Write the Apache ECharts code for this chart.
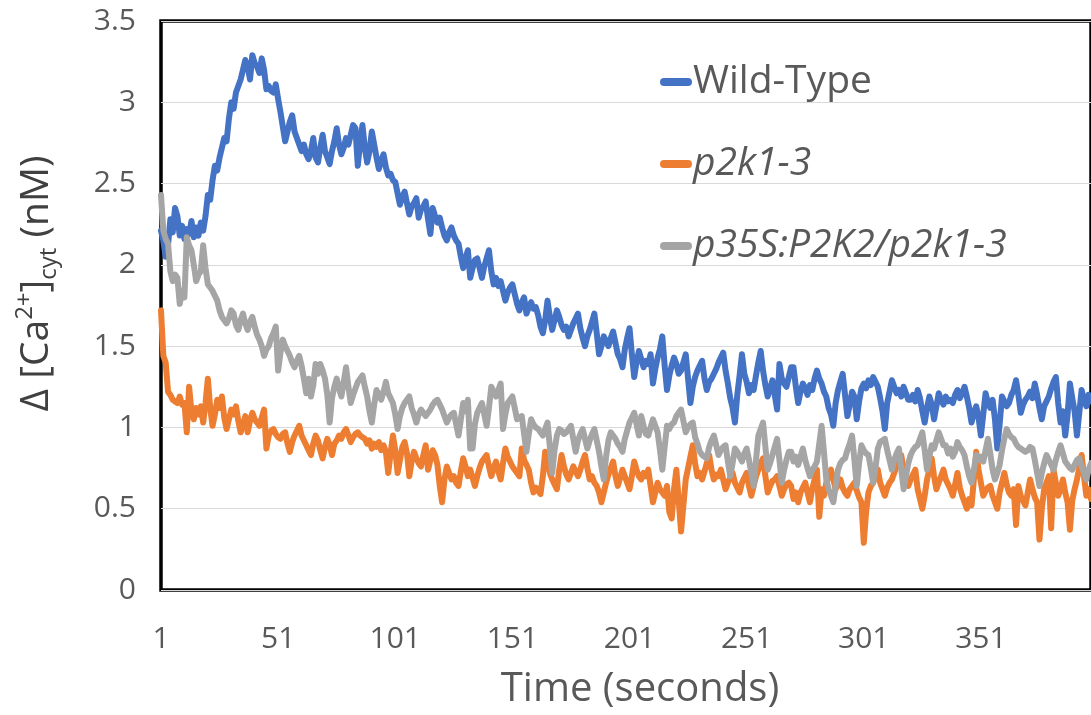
<!DOCTYPE html>
<html>
<head>
<meta charset="utf-8">
<script src="https://cdn.jsdelivr.net/npm/echarts@6/dist/echarts.min.js"></script>
<style>
html,body{margin:0;padding:0;background:#fff;}
#chart{width:1091px;height:715px;}
</style>
</head>
<body>
<div id="chart"></div>
<script>
// Categories: time in seconds
var categories = [];
for (var t = 1; t <= 398; t++) categories.push(String(t));

var seriesNames = ['Wild-Type', 'p2k1-3', 'p35S:P2K2/p2k1-3'];

var wildType = [
2.21,2.15,2.05,2.12,2.28,2.20,2.35,2.30,2.18,2.24,
2.16,2.22,2.19,2.27,2.17,2.23,2.18,2.26,2.21,2.30,
2.43,2.40,2.52,2.61,2.58,2.66,2.72,2.78,2.76,2.90,
3.00,2.96,3.06,3.10,3.14,3.20,3.26,3.22,3.14,3.29,
3.24,3.22,3.18,3.27,3.20,3.08,3.10,3.07,3.06,3.11,
3.02,2.94,2.85,2.76,2.82,2.88,2.92,2.82,2.78,2.74,
2.70,2.74,2.68,2.65,2.70,2.78,2.66,2.63,2.72,2.80,
2.70,2.66,2.62,2.70,2.76,2.84,2.74,2.68,2.72,2.78,
2.74,2.80,2.86,2.84,2.61,2.75,2.86,2.72,2.63,2.70,
2.82,2.74,2.66,2.59,2.64,2.68,2.60,2.55,2.56,2.52,
2.51,2.44,2.37,2.42,2.45,2.38,2.31,2.36,2.38,2.41,
2.29,2.34,2.36,2.39,2.28,2.19,2.35,2.30,2.26,2.29,
2.23,2.18,2.15,2.20,2.23,2.18,2.15,2.13,2.05,1.98,
2.04,2.09,1.92,1.98,2.03,2.04,1.98,1.92,1.99,2.04,
2.09,1.96,1.88,1.92,1.87,1.90,1.84,1.78,1.83,1.86,
1.88,1.82,1.76,1.72,1.77,1.80,1.70,1.74,1.77,1.73,
1.74,1.69,1.62,1.58,1.66,1.78,1.68,1.60,1.66,1.72,
1.68,1.63,1.60,1.62,1.56,1.60,1.64,1.67,1.70,1.61,
1.55,1.50,1.56,1.60,1.65,1.70,1.58,1.45,1.50,1.56,
1.53,1.50,1.55,1.59,1.52,1.45,1.42,1.37,1.48,1.55,
1.61,1.45,1.31,1.40,1.47,1.42,1.37,1.41,1.39,1.45,
1.27,1.36,1.43,1.48,1.56,1.38,1.23,1.32,1.38,1.43,
1.39,1.33,1.35,1.40,1.45,1.30,1.15,1.25,1.31,1.35,
1.38,1.41,1.30,1.23,1.28,1.30,1.33,1.36,1.40,1.43,
1.46,1.35,1.27,1.18,1.12,1.03,1.20,1.32,1.45,1.33,
1.28,1.21,1.26,1.23,1.32,1.40,1.47,1.35,1.26,1.19,
1.24,1.29,1.20,1.11,1.39,1.30,1.27,1.25,1.31,1.37,
1.37,1.25,1.15,1.22,1.27,1.24,1.20,1.26,1.23,1.30,
1.35,1.30,1.27,1.22,1.19,1.12,1.08,1.01,1.15,1.23,
1.28,1.33,1.20,1.07,1.14,1.22,1.19,1.05,1.16,1.24,
1.27,1.24,1.29,1.26,1.31,1.28,1.25,1.18,1.10,0.99,
1.15,1.22,1.29,1.25,1.21,1.23,1.19,1.25,1.21,1.17,
1.17,1.20,1.16,1.23,1.18,1.10,1.03,1.12,1.19,1.14,
1.05,1.13,1.21,1.17,1.14,1.19,1.16,1.17,1.15,1.20,
1.23,1.18,1.21,1.25,1.19,1.12,1.03,1.09,1.13,1.06,
0.95,1.08,1.21,1.15,1.12,1.17,1.05,0.87,1.02,1.19,
1.16,1.13,1.15,1.20,1.23,1.29,1.20,1.09,1.14,1.17,
1.19,1.22,1.18,1.27,1.20,1.12,1.05,1.13,1.16,1.19,
1.24,1.28,1.31,1.15,1.03,1.10,0.95,1.08,1.27,1.18,
1.10,0.95,1.09,1.23,1.17,1.13,1.20,1.16
];

var p2k13 = [
1.72,1.44,1.40,1.22,1.20,1.17,1.16,1.15,1.19,1.14,
1.15,0.97,1.25,1.10,1.05,1.12,1.08,1.13,1.03,1.15,
1.30,1.12,1.01,1.08,1.17,1.12,1.19,1.06,0.99,1.05,
1.11,1.08,1.13,1.04,0.97,1.02,1.07,0.97,1.04,1.09,
1.05,1.03,1.01,1.06,1.11,0.87,0.95,0.98,0.99,0.96,
0.94,0.93,0.96,0.97,0.90,0.85,0.91,0.95,0.98,1.01,
0.95,0.92,0.89,0.86,0.83,0.90,0.95,0.92,0.86,0.81,
0.88,0.93,0.89,0.83,0.90,0.92,0.95,0.93,0.97,0.99,
0.95,0.91,0.94,0.96,0.97,0.95,0.94,0.93,0.90,0.92,
0.87,0.90,0.88,0.91,0.86,0.89,0.85,0.72,0.84,0.95,
0.86,0.72,0.80,0.88,0.91,0.84,0.70,0.79,0.85,0.81,
0.78,0.76,0.83,0.89,0.74,0.80,0.86,0.83,0.77,0.64,
0.54,0.68,0.76,0.72,0.68,0.70,0.66,0.64,0.73,0.81,
0.76,0.70,0.74,0.69,0.64,0.70,0.75,0.79,0.81,0.83,
0.76,0.70,0.75,0.79,0.73,0.68,0.78,0.87,0.82,0.79,
0.76,0.74,0.72,0.70,0.87,0.80,0.77,0.74,0.66,0.60,
0.63,0.61,0.59,0.70,0.85,0.79,0.72,0.68,0.65,0.62,
0.74,0.83,0.76,0.71,0.68,0.72,0.76,0.73,0.70,0.74,
0.79,0.83,0.75,0.68,0.70,0.66,0.64,0.60,0.54,0.60,
0.66,0.71,0.75,0.79,0.70,0.64,0.69,0.74,0.70,0.66,
0.62,0.70,0.79,0.74,0.70,0.68,0.72,0.70,0.74,0.64,
0.54,0.60,0.66,0.62,0.60,0.58,0.64,0.48,0.44,0.62,
0.74,0.55,0.36,0.52,0.68,0.75,0.82,0.89,0.78,0.70,
0.72,0.68,0.73,0.78,0.83,0.74,0.68,0.71,0.70,0.74,
0.68,0.62,0.66,0.69,0.72,0.66,0.63,0.60,0.66,0.69,
0.72,0.64,0.58,0.64,0.70,0.74,0.78,0.81,0.70,0.60,
0.64,0.67,0.68,0.70,0.64,0.58,0.62,0.65,0.66,0.64,
0.56,0.60,0.54,0.60,0.63,0.66,0.60,0.54,0.62,0.68,
0.74,0.45,0.62,0.58,0.66,0.70,0.74,0.68,0.62,0.65,
0.68,0.63,0.60,0.58,0.62,0.64,0.66,0.61,0.57,0.54,
0.29,0.48,0.60,0.64,0.66,0.70,0.74,0.66,0.62,0.58,
0.63,0.66,0.68,0.72,0.76,0.79,0.83,0.74,0.68,0.64,
0.68,0.71,0.74,0.62,0.56,0.50,0.58,0.68,0.74,0.81,
0.70,0.62,0.66,0.70,0.74,0.68,0.65,0.62,0.58,0.65,
0.72,0.63,0.58,0.54,0.50,0.56,0.52,0.68,0.85,0.74,
0.66,0.58,0.61,0.63,0.64,0.58,0.54,0.50,0.60,0.66,
0.72,0.65,0.60,0.58,0.62,0.40,0.64,0.58,0.55,0.52,
0.60,0.68,0.62,0.57,0.54,0.31,0.50,0.62,0.66,0.70,
0.38,0.74,0.66,0.58,0.62,0.68,0.60,0.54,0.37,0.55,
0.62,0.68,0.75,0.83,0.70,0.58,0.62,0.56
];

var p35S = [
2.43,2.21,2.16,2.13,1.96,1.90,1.94,1.92,1.76,1.84,
1.80,2.17,2.12,2.09,2.00,1.90,1.94,1.96,2.12,1.98,
1.88,1.86,1.84,1.81,1.78,1.72,1.68,1.66,1.64,1.67,
1.72,1.70,1.63,1.60,1.66,1.70,1.64,1.60,1.65,1.68,
1.62,1.57,1.54,1.50,1.44,1.48,1.50,1.55,1.58,1.62,
1.35,1.46,1.54,1.50,1.47,1.44,1.40,1.37,1.41,1.44,
1.38,1.30,1.21,1.30,1.19,1.26,1.39,1.33,1.39,1.35,
1.30,1.20,1.03,1.18,1.25,1.30,1.24,1.19,1.28,1.37,
1.25,1.15,1.20,1.24,1.28,1.30,1.32,1.25,1.19,1.10,
1.03,1.14,1.23,1.20,1.17,1.22,1.28,1.21,1.18,1.15,
1.08,0.99,1.07,1.12,1.15,1.17,1.19,1.12,1.08,1.03,
1.08,1.11,1.09,1.07,1.09,1.11,1.14,1.16,1.17,1.14,
1.11,1.07,1.03,1.06,1.08,1.09,1.02,0.95,1.05,1.15,
1.10,1.17,0.87,0.87,1.02,1.09,1.12,1.15,1.08,1.01,
1.12,1.25,1.22,1.19,1.23,1.27,0.99,1.08,1.15,1.17,
1.19,1.12,1.05,1.06,1.07,0.96,0.85,0.96,1.05,1.02,
1.00,0.99,0.97,0.95,0.99,1.03,0.88,0.72,0.86,0.95,
0.99,0.98,0.96,0.97,0.99,1.01,0.93,0.85,0.92,0.96,
0.99,0.93,0.87,0.92,0.96,0.99,0.92,0.85,0.76,0.68,
0.82,0.92,0.97,0.95,0.93,0.90,0.88,0.85,0.93,0.98,
1.03,1.06,1.09,1.02,0.95,1.07,1.01,0.96,0.95,1.00,
1.05,1.01,0.97,0.86,0.74,0.88,1.01,0.99,1.02,1.03,
1.07,1.09,1.11,1.04,0.97,1.00,1.02,1.03,0.94,0.90,
0.85,0.83,0.82,0.81,0.88,0.92,0.95,0.89,0.83,0.86,
0.88,0.89,0.79,0.70,0.78,0.87,0.85,0.82,0.79,0.84,
0.87,0.80,0.72,0.64,0.80,0.95,0.99,1.03,0.88,0.74,
0.78,0.83,0.88,0.93,0.80,0.66,0.74,0.80,0.85,0.85,
0.79,0.82,0.77,0.82,0.87,0.80,0.75,0.70,0.74,0.76,
0.79,0.90,1.01,0.85,0.68,0.62,0.58,0.54,0.64,0.74,
0.78,0.80,0.81,0.86,0.90,0.95,0.80,0.64,0.78,0.89,
0.86,0.84,0.83,0.75,0.66,0.75,0.87,0.91,0.92,0.93,
0.86,0.80,0.74,0.80,0.84,0.87,0.74,0.62,0.70,0.78,
0.83,0.86,0.88,0.89,0.93,0.97,0.86,0.74,0.82,0.89,
0.87,0.92,0.97,0.93,0.89,0.89,0.84,0.87,0.82,0.85,
0.91,0.88,0.86,0.83,0.76,0.70,0.66,0.74,0.83,0.80,
0.82,0.79,0.86,0.93,0.84,0.74,0.68,0.72,0.77,0.86,
0.93,0.99,0.96,0.94,0.93,0.90,0.88,0.87,0.86,0.85,
0.86,0.88,0.87,0.80,0.72,0.64,0.72,0.78,0.83,0.80,
0.77,0.74,0.80,0.85,0.89,0.84,0.79,0.77,0.75,0.74,
0.77,0.80,0.81,0.76,0.72,0.68,0.74,0.78
];

var colors = ['#4472C4', '#ED7D31', '#A5A5A5'];
var FONT = '"Open Sans", sans-serif';
var pill = 'path://M4,0 L28,0 A4,4 0 0 1 28,8 L4,8 A4,4 0 0 1 4,0 Z';

var chart = echarts.init(document.getElementById('chart'), null, {renderer: 'canvas'});

function lineSeries(name, data, color) {
  return {
    name: name,
    type: 'line',
    data: data,
    symbol: 'none',
    showSymbol: false,
    animation: false,
    lineStyle: {color: color, width: 6, cap: 'round', join: 'round'},
    itemStyle: {color: color}
  };
}

chart.setOption({
  animation: false,
  backgroundColor: '#ffffff',
  textStyle: {fontFamily: FONT},
  grid: {
    left: 161, top: 21, right: -3, bottom: 119,
    show: true, borderColor: '#000000', borderWidth: 3.5, backgroundColor: 'transparent'
  },
  legend: {
    orient: 'vertical',
    left: 655,
    top: 56,
    itemWidth: 32,
    itemHeight: 8,
    itemGap: 40,
    icon: pill,
    textStyle: {fontFamily: FONT, fontSize: 39, color: '#595959', lineHeight: 42, padding: [0, 0, 0, -4]},
    data: [
      {name: seriesNames[0]},
      {name: seriesNames[1], textStyle: {fontStyle: 'italic'}},
      {name: seriesNames[2], textStyle: {fontStyle: 'italic'}}
    ]
  },
  xAxis: {
    type: 'category',
    data: categories,
    boundaryGap: false,
    name: 'Time (seconds)',
    nameLocation: 'middle',
    nameGap: 80,
    nameTextStyle: {fontFamily: FONT, fontSize: 40, color: '#595959', padding: [0, 0, 0, 28]},
    axisLine: {show: false},
    axisTick: {show: false},
    axisLabel: {interval: 49, color: '#595959', fontSize: 30, fontFamily: FONT, margin: 34},
    splitLine: {show: false}
  },
  yAxis: {
    type: 'value',
    min: 0, max: 3.5, interval: 0.5,
    name: '{d|Δ [Ca}{sup|2+}{d|]}{sub|cyt}{d| (nM)}',
    nameLocation: 'middle',
    nameGap: 100,
    nameTextStyle: {
      fontFamily: FONT, color: '#595959', padding: [0, 0, 0, 44],
      rich: {
        d: {fontFamily: FONT, fontSize: 39, color: '#404040', lineHeight: 48},
        sup: {fontFamily: FONT, fontSize: 24, color: '#404040', lineHeight: 24, verticalAlign: 'top'},
        sub: {fontFamily: FONT, fontSize: 24, color: '#404040', lineHeight: 24, verticalAlign: 'bottom'}
      }
    },
    axisLine: {show: false},
    axisTick: {show: false},
    axisLabel: {color: '#595959', fontSize: 30, fontFamily: FONT, margin: 25, padding: [8, 0, 0, 0]},
    splitLine: {lineStyle: {color: '#D9D9D9', width: 1}}
  },
  series: [
    lineSeries(seriesNames[0], wildType, colors[0]),
    lineSeries(seriesNames[1], p2k13, colors[1]),
    lineSeries(seriesNames[2], p35S, colors[2])
  ]
});
</script>
</body>
</html>
